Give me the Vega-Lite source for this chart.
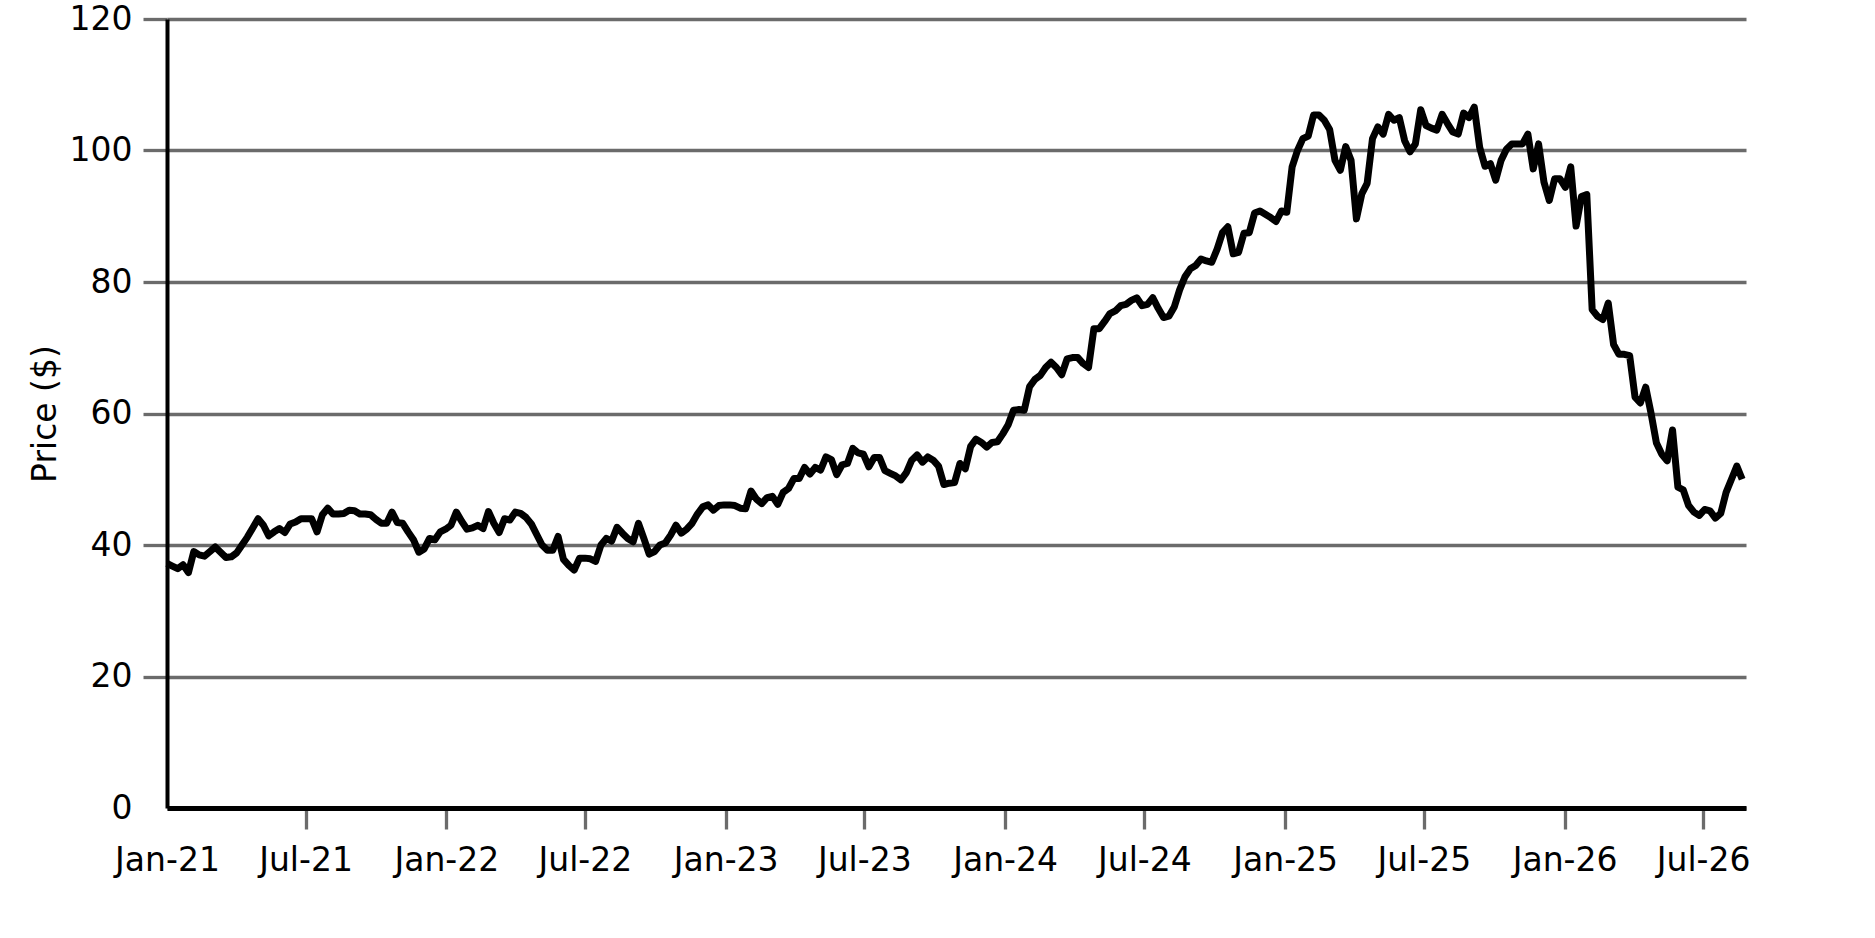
{
  "$schema": "https://vega.github.io/schema/vega-lite/v6.json",
  "description": "Weekly price in dollars, Jan 2021 to Aug 2026.",
  "autosize": "none",
  "width": 1579,
  "height": 789,
  "padding": {"left": 167, "top": 19, "right": 129, "bottom": 130},
  "background": "white",
  "data": {
    "values": [
      {"date": "2021-01-01", "price": 37.2}, {"date": "2021-01-08", "price": 36.8}, {"date": "2021-01-15", "price": 36.4},
      {"date": "2021-01-22", "price": 37.0}, {"date": "2021-01-29", "price": 35.8}, {"date": "2021-02-05", "price": 39.0},
      {"date": "2021-02-12", "price": 38.5}, {"date": "2021-02-19", "price": 38.3}, {"date": "2021-02-26", "price": 39.0},
      {"date": "2021-03-05", "price": 39.7}, {"date": "2021-03-12", "price": 38.9}, {"date": "2021-03-19", "price": 38.1},
      {"date": "2021-03-26", "price": 38.2}, {"date": "2021-04-02", "price": 38.8}, {"date": "2021-04-09", "price": 40.0},
      {"date": "2021-04-16", "price": 41.2}, {"date": "2021-04-23", "price": 42.6}, {"date": "2021-04-30", "price": 44.0},
      {"date": "2021-05-07", "price": 43.0}, {"date": "2021-05-14", "price": 41.4}, {"date": "2021-05-21", "price": 42.0},
      {"date": "2021-05-28", "price": 42.5}, {"date": "2021-06-04", "price": 41.9}, {"date": "2021-06-11", "price": 43.2},
      {"date": "2021-06-18", "price": 43.5}, {"date": "2021-06-25", "price": 44.0}, {"date": "2021-07-02", "price": 44.0},
      {"date": "2021-07-09", "price": 44.0}, {"date": "2021-07-16", "price": 42.0}, {"date": "2021-07-23", "price": 44.6},
      {"date": "2021-07-30", "price": 45.6}, {"date": "2021-08-06", "price": 44.7}, {"date": "2021-08-13", "price": 44.7},
      {"date": "2021-08-20", "price": 44.8}, {"date": "2021-08-27", "price": 45.3}, {"date": "2021-09-03", "price": 45.2},
      {"date": "2021-09-10", "price": 44.7}, {"date": "2021-09-17", "price": 44.7}, {"date": "2021-09-24", "price": 44.6},
      {"date": "2021-10-01", "price": 43.9}, {"date": "2021-10-08", "price": 43.3}, {"date": "2021-10-15", "price": 43.3},
      {"date": "2021-10-22", "price": 45.0}, {"date": "2021-10-29", "price": 43.4}, {"date": "2021-11-05", "price": 43.3},
      {"date": "2021-11-12", "price": 42.0}, {"date": "2021-11-19", "price": 40.8}, {"date": "2021-11-26", "price": 38.9},
      {"date": "2021-12-03", "price": 39.4}, {"date": "2021-12-10", "price": 41.0}, {"date": "2021-12-17", "price": 40.8},
      {"date": "2021-12-24", "price": 42.0}, {"date": "2021-12-31", "price": 42.4},
      {"date": "2022-01-07", "price": 43.0}, {"date": "2022-01-14", "price": 45.0}, {"date": "2022-01-21", "price": 43.6},
      {"date": "2022-01-28", "price": 42.4}, {"date": "2022-02-04", "price": 42.6}, {"date": "2022-02-11", "price": 43.0},
      {"date": "2022-02-18", "price": 42.5}, {"date": "2022-02-25", "price": 45.1}, {"date": "2022-03-04", "price": 43.3},
      {"date": "2022-03-11", "price": 41.9}, {"date": "2022-03-18", "price": 44.0}, {"date": "2022-03-25", "price": 43.8},
      {"date": "2022-04-01", "price": 45.0}, {"date": "2022-04-08", "price": 44.8}, {"date": "2022-04-15", "price": 44.2},
      {"date": "2022-04-22", "price": 43.2}, {"date": "2022-04-29", "price": 41.6}, {"date": "2022-05-06", "price": 40.0},
      {"date": "2022-05-13", "price": 39.2}, {"date": "2022-05-20", "price": 39.2}, {"date": "2022-05-27", "price": 41.3},
      {"date": "2022-06-03", "price": 37.8}, {"date": "2022-06-10", "price": 36.9}, {"date": "2022-06-17", "price": 36.2},
      {"date": "2022-06-24", "price": 38.0}, {"date": "2022-07-01", "price": 38.0}, {"date": "2022-07-08", "price": 37.9},
      {"date": "2022-07-15", "price": 37.5}, {"date": "2022-07-22", "price": 40.0}, {"date": "2022-07-29", "price": 41.0},
      {"date": "2022-08-05", "price": 40.6}, {"date": "2022-08-12", "price": 42.7}, {"date": "2022-08-19", "price": 41.8},
      {"date": "2022-08-26", "price": 41.0}, {"date": "2022-09-02", "price": 40.5}, {"date": "2022-09-09", "price": 43.3},
      {"date": "2022-09-16", "price": 41.0}, {"date": "2022-09-23", "price": 38.6}, {"date": "2022-09-30", "price": 39.0},
      {"date": "2022-10-07", "price": 40.0}, {"date": "2022-10-14", "price": 40.3}, {"date": "2022-10-21", "price": 41.5},
      {"date": "2022-10-28", "price": 43.0}, {"date": "2022-11-04", "price": 41.8}, {"date": "2022-11-11", "price": 42.4},
      {"date": "2022-11-18", "price": 43.3}, {"date": "2022-11-25", "price": 44.7}, {"date": "2022-12-02", "price": 45.8},
      {"date": "2022-12-09", "price": 46.1}, {"date": "2022-12-16", "price": 45.3}, {"date": "2022-12-23", "price": 46.0},
      {"date": "2022-12-30", "price": 46.1},
      {"date": "2023-01-06", "price": 46.1}, {"date": "2023-01-13", "price": 46.0}, {"date": "2023-01-20", "price": 45.6},
      {"date": "2023-01-27", "price": 45.5}, {"date": "2023-02-03", "price": 48.2}, {"date": "2023-02-10", "price": 47.0},
      {"date": "2023-02-17", "price": 46.3}, {"date": "2023-02-24", "price": 47.2}, {"date": "2023-03-03", "price": 47.4},
      {"date": "2023-03-10", "price": 46.2}, {"date": "2023-03-17", "price": 48.0}, {"date": "2023-03-24", "price": 48.6},
      {"date": "2023-03-31", "price": 50.1}, {"date": "2023-04-07", "price": 50.1}, {"date": "2023-04-14", "price": 51.8},
      {"date": "2023-04-21", "price": 50.8}, {"date": "2023-04-28", "price": 51.8}, {"date": "2023-05-05", "price": 51.4},
      {"date": "2023-05-12", "price": 53.4}, {"date": "2023-05-19", "price": 53.0}, {"date": "2023-05-26", "price": 50.7},
      {"date": "2023-06-02", "price": 52.2}, {"date": "2023-06-09", "price": 52.4}, {"date": "2023-06-16", "price": 54.7},
      {"date": "2023-06-23", "price": 54.0}, {"date": "2023-06-30", "price": 53.8}, {"date": "2023-07-07", "price": 51.9},
      {"date": "2023-07-14", "price": 53.3}, {"date": "2023-07-21", "price": 53.3}, {"date": "2023-07-28", "price": 51.3},
      {"date": "2023-08-04", "price": 50.9}, {"date": "2023-08-11", "price": 50.5}, {"date": "2023-08-18", "price": 49.9},
      {"date": "2023-08-25", "price": 51.0}, {"date": "2023-09-01", "price": 52.9}, {"date": "2023-09-08", "price": 53.7},
      {"date": "2023-09-15", "price": 52.6}, {"date": "2023-09-22", "price": 53.4}, {"date": "2023-09-29", "price": 52.9},
      {"date": "2023-10-06", "price": 52.0}, {"date": "2023-10-13", "price": 49.2}, {"date": "2023-10-20", "price": 49.4},
      {"date": "2023-10-27", "price": 49.5}, {"date": "2023-11-03", "price": 52.4}, {"date": "2023-11-10", "price": 51.6},
      {"date": "2023-11-17", "price": 55.0}, {"date": "2023-11-24", "price": 56.1}, {"date": "2023-12-01", "price": 55.6},
      {"date": "2023-12-08", "price": 54.9}, {"date": "2023-12-15", "price": 55.6}, {"date": "2023-12-22", "price": 55.7},
      {"date": "2023-12-29", "price": 56.9},
      {"date": "2024-01-05", "price": 58.3}, {"date": "2024-01-12", "price": 60.5}, {"date": "2024-01-19", "price": 60.6},
      {"date": "2024-01-26", "price": 60.5}, {"date": "2024-02-02", "price": 64.1}, {"date": "2024-02-09", "price": 65.2},
      {"date": "2024-02-16", "price": 65.8}, {"date": "2024-02-23", "price": 67.0}, {"date": "2024-03-01", "price": 67.8},
      {"date": "2024-03-08", "price": 67.0}, {"date": "2024-03-15", "price": 65.9}, {"date": "2024-03-22", "price": 68.3},
      {"date": "2024-03-29", "price": 68.5}, {"date": "2024-04-05", "price": 68.5}, {"date": "2024-04-12", "price": 67.6},
      {"date": "2024-04-19", "price": 67.0}, {"date": "2024-04-26", "price": 72.9}, {"date": "2024-05-03", "price": 72.9},
      {"date": "2024-05-10", "price": 74.0}, {"date": "2024-05-17", "price": 75.2}, {"date": "2024-05-24", "price": 75.6},
      {"date": "2024-05-31", "price": 76.4}, {"date": "2024-06-07", "price": 76.6}, {"date": "2024-06-14", "price": 77.2},
      {"date": "2024-06-21", "price": 77.6}, {"date": "2024-06-28", "price": 76.4}, {"date": "2024-07-05", "price": 76.6},
      {"date": "2024-07-12", "price": 77.6}, {"date": "2024-07-19", "price": 76.0}, {"date": "2024-07-26", "price": 74.6},
      {"date": "2024-08-02", "price": 74.8}, {"date": "2024-08-09", "price": 76.2}, {"date": "2024-08-16", "price": 78.8},
      {"date": "2024-08-23", "price": 80.8}, {"date": "2024-08-30", "price": 82.0}, {"date": "2024-09-06", "price": 82.5},
      {"date": "2024-09-13", "price": 83.5}, {"date": "2024-09-20", "price": 83.2}, {"date": "2024-09-27", "price": 83.0},
      {"date": "2024-10-04", "price": 85.0}, {"date": "2024-10-11", "price": 87.5}, {"date": "2024-10-18", "price": 88.4},
      {"date": "2024-10-25", "price": 84.3}, {"date": "2024-11-01", "price": 84.5}, {"date": "2024-11-08", "price": 87.4},
      {"date": "2024-11-15", "price": 87.5}, {"date": "2024-11-22", "price": 90.5}, {"date": "2024-11-29", "price": 90.8},
      {"date": "2024-12-06", "price": 90.3}, {"date": "2024-12-13", "price": 89.8}, {"date": "2024-12-20", "price": 89.2},
      {"date": "2024-12-27", "price": 90.8},
      {"date": "2025-01-03", "price": 90.6}, {"date": "2025-01-10", "price": 97.5}, {"date": "2025-01-17", "price": 100.0},
      {"date": "2025-01-24", "price": 101.8}, {"date": "2025-01-31", "price": 102.2}, {"date": "2025-02-07", "price": 105.4},
      {"date": "2025-02-14", "price": 105.4}, {"date": "2025-02-21", "price": 104.6}, {"date": "2025-02-28", "price": 103.2},
      {"date": "2025-03-07", "price": 98.5}, {"date": "2025-03-14", "price": 97.0}, {"date": "2025-03-21", "price": 100.6},
      {"date": "2025-03-28", "price": 98.5}, {"date": "2025-04-04", "price": 89.6}, {"date": "2025-04-11", "price": 93.4},
      {"date": "2025-04-18", "price": 95.0}, {"date": "2025-04-25", "price": 101.8}, {"date": "2025-05-02", "price": 103.6},
      {"date": "2025-05-09", "price": 102.5}, {"date": "2025-05-16", "price": 105.5}, {"date": "2025-05-23", "price": 104.6},
      {"date": "2025-05-30", "price": 105.0}, {"date": "2025-06-06", "price": 101.5}, {"date": "2025-06-13", "price": 99.8},
      {"date": "2025-06-20", "price": 101.0}, {"date": "2025-06-27", "price": 106.2}, {"date": "2025-07-04", "price": 103.8},
      {"date": "2025-07-11", "price": 103.4}, {"date": "2025-07-18", "price": 103.1}, {"date": "2025-07-25", "price": 105.5},
      {"date": "2025-08-01", "price": 104.1}, {"date": "2025-08-08", "price": 102.8}, {"date": "2025-08-15", "price": 102.5},
      {"date": "2025-08-22", "price": 105.7}, {"date": "2025-08-29", "price": 105.0}, {"date": "2025-09-05", "price": 106.6},
      {"date": "2025-09-12", "price": 100.5}, {"date": "2025-09-19", "price": 97.6}, {"date": "2025-09-26", "price": 98.0},
      {"date": "2025-10-03", "price": 95.5}, {"date": "2025-10-10", "price": 98.5}, {"date": "2025-10-17", "price": 100.2},
      {"date": "2025-10-24", "price": 101.0}, {"date": "2025-10-31", "price": 101.0}, {"date": "2025-11-07", "price": 101.0},
      {"date": "2025-11-14", "price": 102.5}, {"date": "2025-11-21", "price": 97.2}, {"date": "2025-11-28", "price": 101.0},
      {"date": "2025-12-05", "price": 95.2}, {"date": "2025-12-12", "price": 92.4}, {"date": "2025-12-19", "price": 95.7},
      {"date": "2025-12-26", "price": 95.7},
      {"date": "2026-01-02", "price": 94.4}, {"date": "2026-01-09", "price": 97.5}, {"date": "2026-01-16", "price": 88.5},
      {"date": "2026-01-23", "price": 93.0}, {"date": "2026-01-30", "price": 93.3}, {"date": "2026-02-06", "price": 75.8},
      {"date": "2026-02-13", "price": 74.8}, {"date": "2026-02-20", "price": 74.3}, {"date": "2026-02-27", "price": 76.8},
      {"date": "2026-03-06", "price": 70.5}, {"date": "2026-03-13", "price": 69.0}, {"date": "2026-03-20", "price": 69.0},
      {"date": "2026-03-27", "price": 68.8}, {"date": "2026-04-03", "price": 62.5}, {"date": "2026-04-10", "price": 61.6},
      {"date": "2026-04-17", "price": 64.0}, {"date": "2026-04-24", "price": 60.0}, {"date": "2026-05-01", "price": 55.5},
      {"date": "2026-05-08", "price": 53.8}, {"date": "2026-05-15", "price": 52.8}, {"date": "2026-05-22", "price": 57.5},
      {"date": "2026-05-29", "price": 48.8}, {"date": "2026-06-05", "price": 48.4}, {"date": "2026-06-12", "price": 46.0},
      {"date": "2026-06-19", "price": 45.0}, {"date": "2026-06-26", "price": 44.5}, {"date": "2026-07-03", "price": 45.4},
      {"date": "2026-07-10", "price": 45.2}, {"date": "2026-07-17", "price": 44.1}, {"date": "2026-07-24", "price": 44.8},
      {"date": "2026-07-31", "price": 48.0}, {"date": "2026-08-07", "price": 50.0}, {"date": "2026-08-14", "price": 52.0},
      {"date": "2026-08-21", "price": 50.0}
    ]
  },
  "mark": {"type": "line", "color": "black", "strokeWidth": 7, "strokeJoin": "round", "strokeCap": "butt"},
  "encoding": {
    "x": {
      "field": "date",
      "type": "temporal",
      "scale": {"domain": ["2021-01-01", "2026-08-26"], "nice": false},
      "axis": {
        "title": null,
        "format": "%b-%y",
        "tickCount": {"interval": "month", "step": 6},
        "grid": false,
        "domainColor": "black",
        "domainWidth": 5,
        "tickColor": "#6b6b6b",
        "tickWidth": 3.3,
        "tickSize": 21,
        "tickOpacity": {"condition": {"test": "year(datum.value) == 2021 && month(datum.value) == 0", "value": 0}, "value": 1},
        "labelPadding": 15,
        "labelFontSize": 33,
        "labelColor": "black",
        "labelFlush": false,
        "labelOverlap": false
      }
    },
    "y": {
      "field": "price",
      "type": "quantitative",
      "scale": {"domain": [0, 120], "nice": false},
      "axis": {
        "title": "Price ($)",
        "values": [0, 20, 40, 60, 80, 100, 120],
        "grid": true,
        "gridColor": "#6b6b6b",
        "gridWidth": 3.3,
        "domainColor": "black",
        "domainWidth": 4,
        "tickColor": "#6b6b6b",
        "tickWidth": 3.3,
        "tickSize": 24,
        "tickOpacity": {"condition": {"test": "datum.value == 0", "value": 0}, "value": 1},
        "labelPadding": 11,
        "labelFontSize": 33,
        "labelColor": "black",
        "titleFontSize": 33,
        "titleFontWeight": "normal",
        "titleColor": "black",
        "titlePadding": 7
      }
    }
  },
  "config": {
    "font": "DejaVu Sans",
    "view": {"stroke": null}
  }
}
